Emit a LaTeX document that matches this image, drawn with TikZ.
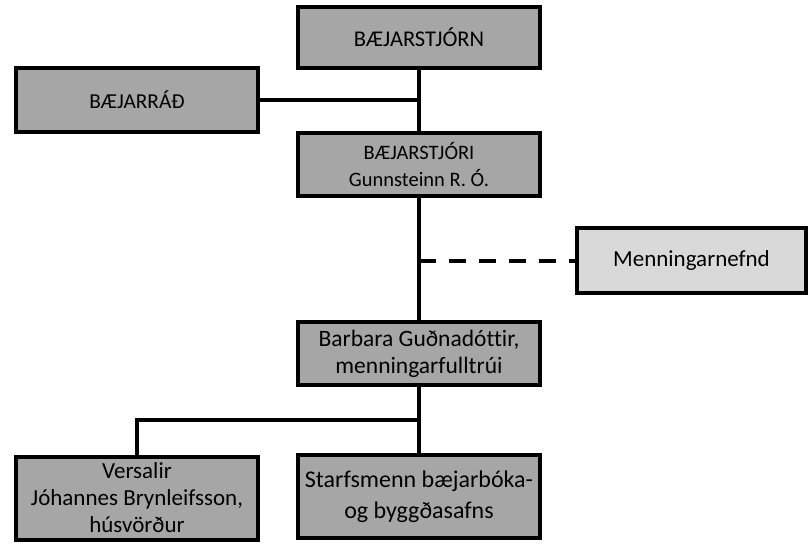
\documentclass[tikz,border=0pt]{standalone}
\usepackage{fontspec}
\setmainfont{Carlito}[Ligatures=NoCommon]
\begin{document}
\begin{tikzpicture}[x=1pt,y=-1pt,
  box/.style={draw=black,line width=4pt,fill=boxgray,rectangle,align=center,
    font=\fontsize{20}{27}\selectfont,inner sep=0pt},
  fsz/.style n args={2}{font=\fontsize{#1}{#2}\selectfont},
  conn/.style={line width=4pt,draw=black},
  dconn/.style={line width=4pt,draw=black,dash pattern=on 17pt off 13pt}]
\definecolor{boxgray}{HTML}{A6A6A6}
\definecolor{lightgray2}{HTML}{D9D9D9}
\useasboundingbox (0,0) rectangle (812,544);
\node[box,fsz={22.5}{27},minimum width=242pt,minimum height=61pt] (bst) at (419,37.5) {BÆJARSTJÓRN};
\node[box,fsz={21.3}{27},minimum width=242pt,minimum height=64pt] (brad) at (137,100) {BÆJARRÁÐ};
\node[box,fsz={20.5}{27},minimum width=242pt,minimum height=63pt] (bstj) at (419,164.5) {BÆJARSTJÓRI\\Gunnsteinn R. Ó.};
\node[box,fsz={23}{27},fill=lightgray2,minimum width=229pt,minimum height=65pt] (menn) at (691.5,260.5) {Menningarnefnd};
\node[box,fsz={23.5}{27},minimum width=242pt,minimum height=63pt] (barb) at (419,353.5) {Barbara Guðnadóttir,\\menningarfulltrúi};
\node[box,fsz={23}{27},minimum width=242pt,minimum height=83pt] (vers) at (137,498) {Versalir\\Jóhannes Brynleifsson,\\húsvörður};
\node[box,fsz={24}{31},minimum width=242pt,minimum height=83pt] (star) at (419,496.5) {Starfsmenn bæjarbóka-\\og byggðasafns};
\coordinate (j1) at (419,100);
\coordinate (j2) at (419,260.5);
\coordinate (j3) at (419,420);
\draw[conn] (bst.south) -- (bstj.north);
\draw[conn] (brad.east) -- (j1);
\draw[conn] (bstj.south) -- (barb.north);
\draw[dconn] (j2) -- (menn.west);
\draw[conn] (barb.south) -- (star.north);
\draw[conn] (j3) -| (vers.north);
\end{tikzpicture}
\end{document}
